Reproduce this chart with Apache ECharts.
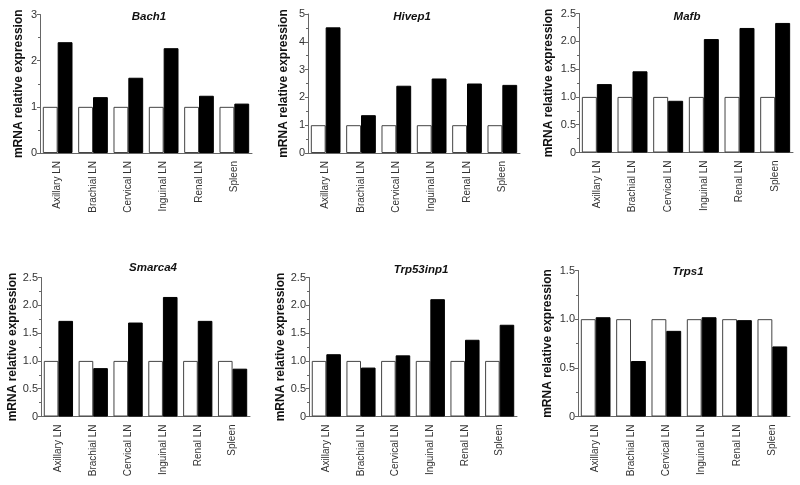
<!DOCTYPE html>
<html><head><meta charset="utf-8">
<script src="https://cdn.jsdelivr.net/npm/echarts@6/dist/echarts.min.js"></script>
<style>html,body{margin:0;padding:0;background:#fff}#c{width:800px;height:485px}</style>
</head><body><div id="c"></div>
<script>
const categories = ['Axillary LN','Brachial LN','Cervical LN','Inguinal LN','Renal LN','Spleen'];
const genes = ['Bach1','Hivep1','Mafb','Smarca4','Trp53inp1','Trps1'];
const controlValues = [1,1,1,1,1,1];
const bach1 = [2.40,1.21,1.63,2.27,1.24,1.07];
const hivep1 = [4.52,1.36,2.42,2.68,2.50,2.45];
const mafb = [1.23,1.46,0.93,2.04,2.24,2.33];
const smarca4 = [1.72,0.87,1.69,2.15,1.72,0.86];
const trp53inp1 = [1.12,0.88,1.10,2.11,1.38,1.65];
const trps1 = [1.02,0.57,0.88,1.02,0.99,0.72];
const yMax = [3,5,2.5,2.5,2.5,1.5];
const yInterval = [1,1,0.5,0.5,0.5,0.5];
const treated = [bach1,hivep1,mafb,smarca4,trp53inp1,trps1];

const grids = [
  {left:40,top:14.5,width:212,height:138.5},
  {left:308,top:14,width:212,height:139},
  {left:579,top:13.5,width:214,height:139},
  {left:41,top:277.5,width:209,height:139},
  {left:309,top:277.5,width:208,height:139},
  {left:578,top:270.5,width:212,height:146}
];
const nameGaps = [15,18,24,19,22,24];
const titlePos = [[144,12],[407,12],[682,12],[148,263],[416,265],[683,267]];
const font = 'Liberation Sans, Arial, sans-serif';
const axisColor = '#666';

const opt = {animation:false, backgroundColor:'#fff', title:[], grid:[], xAxis:[], yAxis:[], series:[]};
genes.forEach((g,i)=>{
  opt.title.push({text:g,left:titlePos[i][0],top:titlePos[i][1],textAlign:'center',textVerticalAlign:'middle',
    textStyle:{fontFamily:font,fontSize:11.5,fontWeight:'bold',fontStyle:'italic',color:'#111'}});
  opt.grid.push(grids[i]);
  opt.xAxis.push({type:'category',gridIndex:i,data:categories,
    axisLine:{lineStyle:{color:axisColor,width:1}},axisTick:{show:false},
    axisLabel:{rotate:90,margin:8,fontFamily:font,fontSize:10,color:'#333',interval:0}});
  const dec = yInterval[i] < 1;
  opt.yAxis.push({type:'value',gridIndex:i,min:0,max:yMax[i],interval:yInterval[i],
    name:'mRNA relative expression',nameLocation:'middle',nameGap:nameGaps[i],
    nameTextStyle:{fontFamily:font,fontSize:12,fontWeight:'bold',color:'#111'},
    axisLine:{show:true,lineStyle:{color:axisColor,width:1}},
    axisTick:{show:true,length:3,lineStyle:{color:axisColor}},
    minorTick:{show:true,splitNumber:2,length:2,lineStyle:{color:axisColor}},
    splitLine:{show:false},
    axisLabel:{margin:3,fontFamily:font,fontSize:11,color:'#333',
      formatter:v=> v===0?'0':(dec?v.toFixed(1):String(v))}});
  opt.series.push({type:'bar',xAxisIndex:i,yAxisIndex:i,data:controlValues,barGap:'0%',barCategoryGap:'16%',
    itemStyle:{color:'#fff',borderColor:'#444',borderWidth:1}});
  opt.series.push({type:'bar',xAxisIndex:i,yAxisIndex:i,data:treated[i],barGap:'0%',barCategoryGap:'16%',
    itemStyle:{color:'#000',borderColor:'#000',borderWidth:1}});
});
const ch = echarts.init(document.getElementById('c'),null,{renderer:'canvas'});
ch.setOption(opt);
</script></body></html>
